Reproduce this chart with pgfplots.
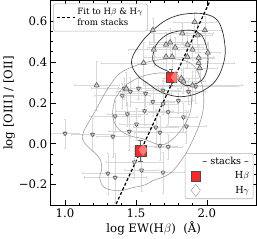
\documentclass[border=0pt]{standalone}
\usepackage{fontspec}
\setmainfont{DejaVu Serif}
\usepackage{pgfplots}
\usepackage{pgfplotstable}
\pgfplotsset{compat=1.18}

\pgfplotstableread{
x y ex ey
1.619 0.555 0.20 0.06
1.914 0.595 0.15 0.05
1.986 0.555 0.12 0.07
1.827 0.540 0.22 0.05
1.935 0.530 0.10 0.06
1.626 0.460 0.18 0.08
1.712 0.485 0.12 0.06
1.741 0.495 0.15 0.07
1.777 0.470 0.20 0.05
1.863 0.485 0.14 0.06
1.899 0.460 0.10 0.05
1.712 0.425 0.16 0.06
1.755 0.425 0.12 0.07
1.863 0.425 0.18 0.05
1.942 0.420 0.11 0.06
1.942 0.395 0.25 0.05
1.950 0.370 0.12 0.06
2.007 0.445 0.09 0.05
1.554 0.395 0.30 0.10
1.835 0.305 0.15 0.06
1.899 0.285 0.35 0.07
1.820 0.320 0.12 0.05
1.223 0.285 0.16 0.12
1.432 0.270 0.25 0.08
}\uptab

\pgfplotstableread{
x y ex ey
1.000 0.050 0.10 0.07
1.194 0.045 0.15 0.08
1.338 0.035 0.12 0.10
1.353 0.135 0.18 0.08
1.439 0.145 0.14 0.06
1.561 0.160 0.20 0.07
1.504 0.095 0.12 0.08
1.453 0.060 0.15 0.09
1.489 -0.090 0.20 0.08
1.540 -0.130 0.12 0.10
1.302 -0.145 0.18 0.10
1.353 -0.165 0.22 0.12
1.799 0.210 0.10 0.06
1.856 0.085 0.14 0.08
1.669 -0.010 0.12 0.07
1.727 -0.015 0.10 0.06
1.640 0.080 0.16 0.09
1.691 -0.140 0.15 0.10
1.417 0.270 0.12 0.05
1.403 0.235 0.20 0.06
1.518 0.270 0.14 0.05
1.568 0.245 0.18 0.06
1.460 0.255 0.10 0.07
1.691 0.260 0.12 0.06
1.619 0.205 0.15 0.07
1.691 0.195 0.10 0.05
1.921 0.280 0.30 0.08
1.871 0.255 0.12 0.06
1.835 0.130 0.10 0.07
1.727 0.155 0.14 0.06
1.669 0.055 0.18 0.08
}\downtab

\begin{document}
\begin{tikzpicture}
\pgfplotsset{
  common/.style={
    scale only axis, width=202pt, height=201pt,
    xmin=0.9, xmax=2.35, ymin=-0.3, ymax=0.7,
  }
}
\begin{axis}[common,
  axis line style={black, line width=1pt},
  tick align=inside, xtick pos=both, ytick pos=both,
  major tick length=5pt, minor tick length=2.5pt,
  tick style={black, line width=0.6pt},
  xtick={1.0,1.5,2.0}, xticklabels={1.0,1.5,2.0},
  ytick={-0.2,0,0.2,0.4,0.6}, yticklabels={−0.2,0.0,0.2,0.4,0.6},
  minor x tick num=4, minor y tick num=3,
  ticklabel style={font=\fontsize{11.5}{13}\selectfont},
  label style={font=\fontsize{11.5}{13}\selectfont},
  xlabel={log EW(H$\beta$)\ \ (Å)},
  ylabel={log [OIII] / [OII]},
  xlabel style={yshift=3pt},
  ylabel style={yshift=-3pt},
  legend style={at={(0.012,0.985)}, anchor=north west, draw=gray!60, line width=0.5pt, rounded corners=2pt,
    font=\fontsize{8.5}{9}\selectfont, inner xsep=3pt, inner ysep=2pt, row sep=0pt},
  legend cell align=left,
  legend image post style={line width=1.2pt},
]
% error bars, triangles down
\addplot[forget plot, only marks, mark=none, draw=gray!30, line width=0.5pt,
  error bars/.cd, x dir=both, y dir=both, x explicit, y explicit,
  error bar style={gray!30, line width=0.5pt}, error mark options={gray!30, mark size=1pt, rotate=90}]
  table[x=x, y=y, x error=ex, y error=ey] {\downtab};
% error bars, triangles up
\addplot[forget plot, only marks, mark=none, draw=gray!30, line width=0.5pt,
  error bars/.cd, x dir=both, y dir=both, x explicit, y explicit,
  error bar style={gray!30, line width=0.5pt}, error mark options={gray!30, mark size=1pt, rotate=90}]
  table[x=x, y=y, x error=ex, y error=ey] {\uptab};
% light contours
\addplot[forget plot, gray!75, line width=0.6pt, smooth, tension=0.6] coordinates {
(1.259,0.220)(1.317,0.285)(1.388,0.345)(1.511,0.385)(1.619,0.405)(1.741,0.415)(1.849,0.405)
(1.921,0.370)(1.964,0.295)(1.978,0.220)(1.971,0.155)(1.942,0.085)(1.892,0.005)(1.835,-0.065)
(1.741,-0.145)(1.619,-0.180)(1.568,-0.200)(1.475,-0.215)(1.381,-0.230)(1.281,-0.215)
(1.245,-0.170)(1.259,-0.115)(1.237,-0.065)(1.137,0.005)(1.129,0.055)(1.209,0.155)(1.259,0.220)};
\addplot[forget plot, gray!75, line width=0.6pt, smooth, tension=0.6] coordinates {
(1.353,0.220)(1.417,0.280)(1.511,0.320)(1.604,0.340)(1.712,0.345)(1.813,0.320)(1.878,0.260)
(1.892,0.195)(1.871,0.130)(1.820,0.070)(1.763,0.025)(1.691,-0.005)(1.619,0.005)(1.547,0.025)
(1.453,0.040)(1.374,0.075)(1.338,0.125)(1.338,0.170)(1.353,0.220)};
% dark contours
\addplot[forget plot, black!80, line width=0.7pt, smooth, tension=0.6] coordinates {
(1.619,0.555)(1.691,0.595)(1.763,0.620)(1.856,0.635)(1.978,0.635)(2.065,0.610)(2.108,0.555)
(2.129,0.470)(2.122,0.405)(2.086,0.335)(2.029,0.285)(1.928,0.245)(1.820,0.230)(1.727,0.240)
(1.655,0.260)(1.583,0.295)(1.532,0.320)(1.489,0.355)(1.468,0.395)(1.482,0.435)(1.518,0.475)
(1.561,0.515)(1.619,0.555)};
\addplot[forget plot, black!80, line width=0.7pt, smooth, tension=0.6] coordinates {
(1.619,0.430)(1.640,0.480)(1.691,0.520)(1.763,0.545)(1.885,0.555)(1.957,0.535)(1.993,0.485)
(2.007,0.430)(2.000,0.360)(1.964,0.310)(1.906,0.290)(1.849,0.285)(1.799,0.310)(1.748,0.345)
(1.691,0.365)(1.640,0.385)(1.619,0.410)(1.619,0.430)};
% triangles
\addplot[forget plot, only marks, mark=triangle*, mark size=2.3pt,
  mark options={rotate=180, draw=black!60, fill=gray!35, line width=0.4pt}]
  table[x=x, y=y] {\downtab};
\addplot[forget plot, only marks, mark=triangle*, mark size=3pt,
  mark options={draw=black!65, fill=gray!40, line width=0.5pt}]
  table[x=x, y=y] {\uptab};
% fit line
\addplot[black, line width=1.2pt, dash pattern=on 3pt off 2pt] coordinates {(1.30,-0.385)(2.10,0.815)};
\addlegendentry{\shortstack[l]{Fit to H$\beta$ \& H$\gamma$\\from stacks}}
% stacks
\addplot[forget plot, only marks, mark=square*, mark size=5.2pt,
  mark options={draw=black!70, fill=red!85!white, line width=0.4pt},
  error bars/.cd, y dir=both, y explicit, error bar style={black!60, line width=0.8pt},
  error mark options={black!60, mark size=2pt, rotate=90}]
  coordinates {(1.532,-0.035) +- (0,0.05) (1.748,0.325) +- (0,0.04)};
\addplot[forget plot, only marks, mark=diamond*, mark size=5.5pt,
  mark options={draw=red!50, fill=red!30, fill opacity=0.6, line width=0.4pt}]
  coordinates {(1.550,-0.030) (1.777,0.325)};
\end{axis}
\begin{axis}[common, hide axis,
  legend style={at={(0.985,0.03)}, anchor=south east, draw=gray!60, line width=0.5pt, rounded corners=2pt,
    font=\fontsize{9.5}{10}\selectfont, inner sep=2pt, row sep=1.5pt},
  legend cell align=right,
]
\addlegendimage{empty legend}
\addlegendentry{-- stacks --}
\addlegendimage{only marks, mark=square*, mark size=4.5pt, mark options={draw=black!70, fill=red!85!white}}
\addlegendentry{H$\beta$}
\addlegendimage{only marks, mark=diamond*, mark size=6pt, mark options={draw=gray!70, fill=white}}
\addlegendentry{H$\gamma$}
\end{axis}
\end{tikzpicture}
\end{document}
